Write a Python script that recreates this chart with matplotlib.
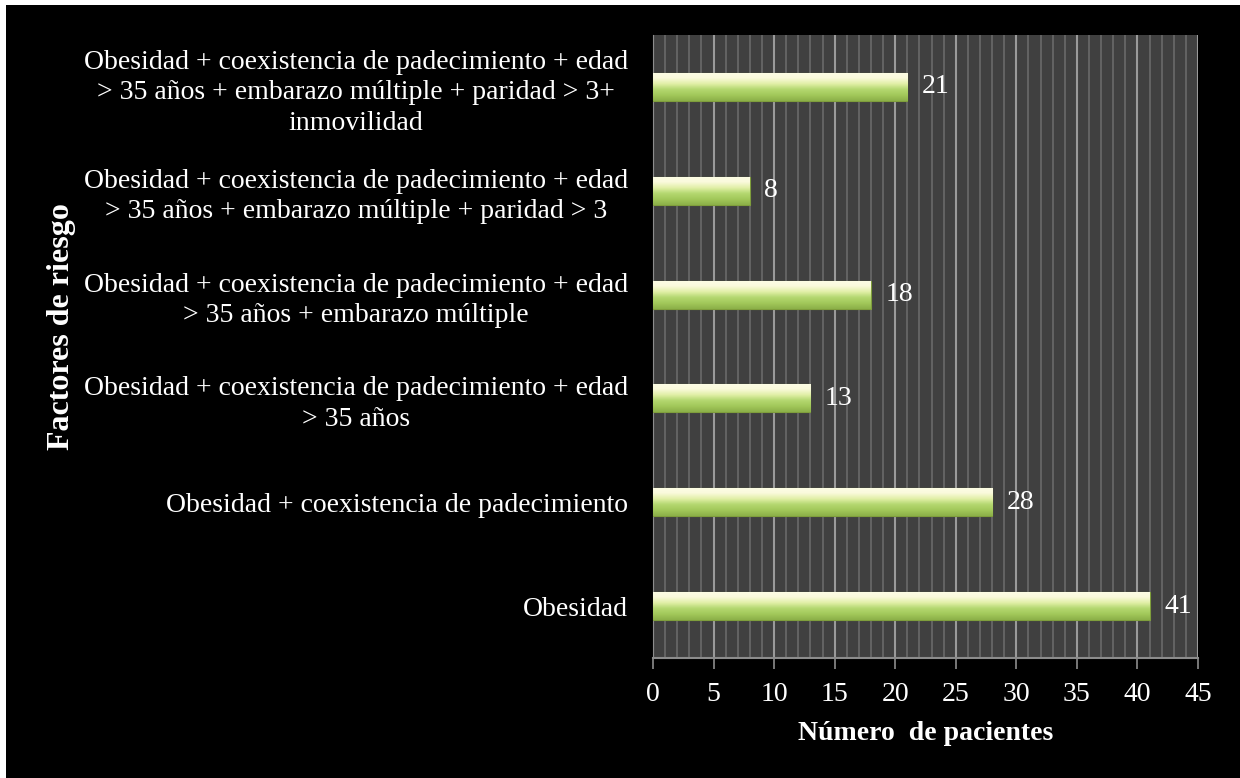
import matplotlib.pyplot as plt
import numpy as np
from matplotlib.ticker import MultipleLocator
from matplotlib.colors import LinearSegmentedColormap

cats = ["Obesidad",
        "Obesidad + coexistencia de padecimiento",
        "Obesidad + coexistencia de padecimiento + edad\n> 35 años",
        "Obesidad + coexistencia de padecimiento + edad\n> 35 años + embarazo múltiple",
        "Obesidad + coexistencia de padecimiento + edad\n> 35 años + embarazo múltiple + paridad > 3",
        "Obesidad + coexistencia de padecimiento + edad\n> 35 años + embarazo múltiple + paridad > 3+\ninmovilidad"]
vals = [41, 28, 13, 18, 8, 21]

plt.rcParams['font.family'] = ['Liberation Serif', 'DejaVu Serif']
fs = 20

fig = plt.figure(figsize=(12.4, 7.78), dpi=100, facecolor='white')
# black panel
bg = fig.add_axes([6/1240, 0, 1 - 6/1240, 1 - 5/778])
bg.set_facecolor('black')
bg.set_xticks([]); bg.set_yticks([])
for s in bg.spines.values():
    s.set_visible(False)

ax = fig.add_axes([653/1240, 1 - 658/778, (1198-653)/1240, (658-35)/778])
ax.set_facecolor('#404040')
ax.xaxis.set_major_locator(MultipleLocator(5))
ax.xaxis.set_minor_locator(MultipleLocator(1))
ax.grid(which='minor', axis='x', color='#6a6a6a', lw=1.2)
ax.grid(which='major', axis='x', color='#9a9a9a', lw=1.5)
ax.set_axisbelow(True)

y = np.arange(len(cats))
h = 0.27
bars = ax.barh(y, vals, height=h, color='#a6cc5c', edgecolor='#7f9e3c', lw=0.8, zorder=3)
grad = np.linspace(0, 1, 100).reshape(-1, 1)
cm = LinearSegmentedColormap.from_list('g', ['#fdfde6', '#fafadc', '#e2f0a8', '#b4d870', '#a2c85a', '#8cb048'])
for b in bars:
    x0, y0 = b.get_x(), b.get_y()
    im = ax.imshow(grad, extent=[x0, x0 + b.get_width(), y0, y0 + b.get_height()],
                   cmap=cm, aspect='auto', origin='upper', zorder=3.5)
    im.set_clip_path(b)
    ax.text(b.get_width() + 1.2, y0 + b.get_height()/2, str(int(b.get_width())),
            color='white', fontsize=fs, va='center', ha='left', zorder=5)
ax.set_xlim(0, 45)
ax.set_ylim(-0.5, 5.5)

ax.set_yticks(y)
ax.set_yticklabels(cats, fontsize=fs, color='white', ha='right', multialignment='center',
                   linespacing=1.3)
ax.tick_params(axis='y', length=0, pad=18)
ax.tick_params(axis='x', colors='#8c8c8c', labelcolor='white', labelsize=fs, length=8, width=1.2, pad=9)
ax.tick_params(axis='x', which='minor', length=0)
for s in ['top', 'right']:
    ax.spines[s].set_visible(False)
ax.spines['left'].set_color('#8c8c8c')
ax.spines['bottom'].set_color('#8c8c8c')
ax.spines['bottom'].set_linewidth(1.5)
ax.set_xlabel('Número  de pacientes', color='white', fontsize=fs, fontweight='bold', labelpad=10)
fig.text(62/1240, 1 - 327/778, 'Factores de riesgo', color='white', fontsize=23,
         fontweight='bold', rotation=90, ha='center', va='center')

fig.savefig('out.png', dpi=100, facecolor='white')
